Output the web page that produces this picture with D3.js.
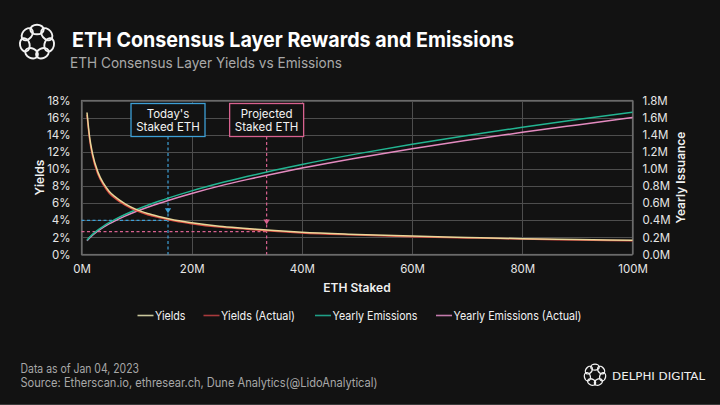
<!DOCTYPE html>
<html>
<head>
<meta charset="utf-8">
<script src="https://cdn.jsdelivr.net/npm/d3@7"></script>
<style>
  html, body { margin: 0; padding: 0; background: #121212; }
  svg { display: block; }
</style>
</head>
<body>
<svg id="chart" width="720" height="405"></svg>
<script>
// ---------------- DATA ----------------
const stakedM = [1, 1.5, 2, 3, 4, 5, 6, 8, 10, 12, 14, 16, 20, 25, 30, 35, 40, 50, 60, 70, 80, 90, 100];
const yields = [16.6, 13.6, 11.8, 9.6, 8.3, 7.4, 6.8, 5.9, 5.25, 4.8, 4.45, 4.15, 3.7, 3.3, 3.05, 2.8, 2.6, 2.35, 2.15, 2.0, 1.85, 1.75, 1.66];
const yieldsActual = [16.3, 13.3, 11.5, 9.35, 8.1, 7.2, 6.6, 5.75, 5.1, 4.65, 4.32, 4.03, 3.6, 3.2, 2.96, 2.72, 2.52, 2.28, 2.08, 1.94, 1.8, 1.7, 1.61];
const emissions = [0.166, 0.204, 0.235, 0.288, 0.333, 0.372, 0.407, 0.47, 0.526, 0.576, 0.622, 0.665, 0.744, 0.832, 0.911, 0.984, 1.052, 1.176, 1.288, 1.391, 1.487, 1.578, 1.664];
const emissionsActual = [0.16, 0.196, 0.226, 0.276, 0.32, 0.357, 0.391, 0.451, 0.505, 0.553, 0.597, 0.638, 0.714, 0.799, 0.875, 0.945, 1.01, 1.129, 1.237, 1.335, 1.428, 1.515, 1.6];

const xTicks = [0, 20, 40, 60, 80, 100];
const yLeftTicks = [0, 2, 4, 6, 8, 10, 12, 14, 16, 18];
const yRightTicks = [0, 0.2, 0.4, 0.6, 0.8, 1.0, 1.2, 1.4, 1.6, 1.8];

const seriesNames = ["Yields", "Yields (Actual)", "Yearly Emissions", "Yearly Emissions (Actual)"];
const seriesColors = ["#e9d79a", "#d9493f", "#22b592", "#e48bc0"];
const legendColors = ["#c9c79c", "#a83a3c", "#1f9f86", "#c27aab"];

// markers: [label lines], staked (M), yield (%)
const markerLabels = [["Today's", "Staked ETH"], ["Projected", "Staked ETH"]];
const markerStaked = [15.7, 33.6];
const markerYield = [4.0, 2.68];
const markerColors = ["#3d9fd6", "#d8628f"];

const title = "ETH Consensus Layer Rewards and Emissions";
const subtitle = "ETH Consensus Layer Yields vs Emissions";
const footer1 = "Data as of Jan 04, 2023";
const footer2 = "Source: Etherscan.io, ethresear.ch, Dune Analytics(@LidoAnalytical)";

// ---------------- LAYOUT ----------------
const svg = d3.select("#chart");
const W = 720, H = 405;
const m = { left: 81.5, right: 632.5, top: 100.5, bottom: 254.5 };
svg.append("rect").attr("width", W).attr("height", H).attr("fill", "#121212");

const x = d3.scaleLinear().domain([0, 100]).range([m.left, m.right]);
const yL = d3.scaleLinear().domain([0, 18]).range([m.bottom, m.top]);
const yR = d3.scaleLinear().domain([0, 1.8]).range([m.bottom, m.top]);

const FONT = "Inter, 'Noto Sans', sans-serif";

// Title block
svg.append("text").attr("x", 72).attr("y", 47).text(title)
  .attr("fill", "#ffffff").attr("font-family", FONT).attr("font-weight", 700)
  .attr("font-size", 20.5).attr("textLength", 442).attr("lengthAdjust", "spacingAndGlyphs");
svg.append("text").attr("x", 70).attr("y", 68).text(subtitle)
  .attr("fill", "#a8a8a8").attr("font-family", FONT).attr("font-weight", 400)
  .attr("font-size", 14.5).attr("textLength", 272).attr("lengthAdjust", "spacingAndGlyphs");

// Logo (ring of interlocking loops)
function drawLogo(cx, cy, r, n, sw) {
  const lg = svg.append("g").attr("transform", `translate(${cx},${cy})`);
  for (let i = 0; i < n; i++) {
    const a = (i / n) * 360;
    lg.append("ellipse")
      .attr("cx", 0).attr("cy", -r * 0.78).attr("rx", r * 0.42).attr("ry", r * 0.3)
      .attr("transform", `rotate(${a})`)
      .attr("fill", "none").attr("stroke", "#f2f2f2").attr("stroke-width", sw);
  }
  return lg;
}
drawLogo(37, 42, 16, 7, 1.9);

// Grid
const grid = svg.append("g");
grid.selectAll("line.h").data(yLeftTicks).join("line")
  .attr("x1", m.left).attr("x2", m.right)
  .attr("y1", d => Math.round(yL(d)) + 0.5).attr("y2", d => Math.round(yL(d)) + 0.5)
  .attr("stroke", "#4d4d4d").attr("stroke-width", 1);
grid.selectAll("line.v").data(xTicks).join("line")
  .attr("y1", m.top).attr("y2", m.bottom)
  .attr("x1", d => Math.round(x(d)) + 0.5).attr("x2", d => Math.round(x(d)) + 0.5)
  .attr("stroke", "#4d4d4d").attr("stroke-width", 1);
svg.append("rect").attr("x", m.left).attr("y", m.top)
  .attr("width", m.right - m.left).attr("height", m.bottom - m.top)
  .attr("fill", "none").attr("stroke", "#6a6a6a").attr("stroke-width", 1.2);

// Axes (text only via d3 axes)
const axisStyle = g => {
  g.select(".domain").remove();
  g.selectAll(".tick line").remove();
  g.selectAll(".tick text").attr("fill", "#e6e6e6").attr("font-family", FONT).attr("font-size", 11.5);
};
svg.append("g").attr("transform", `translate(${m.left - 11},0)`)
  .call(d3.axisLeft(yL).tickValues(yLeftTicks).tickFormat(d => d + "%").tickSize(0).tickPadding(0))
  .call(axisStyle);
svg.append("g").attr("transform", `translate(${m.right + 10},0)`)
  .call(d3.axisRight(yR).tickValues(yRightTicks).tickFormat(d => d3.format(".1f")(d) + "M").tickSize(0).tickPadding(0))
  .call(axisStyle);
svg.append("g").attr("transform", `translate(0,${m.bottom + 8})`)
  .call(d3.axisBottom(x).tickValues(xTicks).tickFormat(d => d + "M").tickSize(0).tickPadding(2))
  .call(axisStyle);

svg.append("text").text("Yields")
  .attr("transform", `translate(44,${(m.top + m.bottom) / 2}) rotate(-90)`)
  .attr("text-anchor", "middle").attr("fill", "#f0f0f0").attr("font-family", FONT)
  .attr("font-weight", 600).attr("font-size", 12);
svg.append("text").text("Yearly Issuance")
  .attr("transform", `translate(685,${(m.top + m.bottom) / 2}) rotate(-90)`)
  .attr("text-anchor", "middle").attr("fill", "#f0f0f0").attr("font-family", FONT)
  .attr("font-weight", 600).attr("font-size", 12);
svg.append("text").text("ETH Staked")
  .attr("x", (m.left + m.right) / 2).attr("y", 292)
  .attr("text-anchor", "middle").attr("fill", "#f0f0f0").attr("font-family", FONT)
  .attr("font-weight", 600).attr("font-size", 12);

// Marker dashed lines & arrows
const boxW = 74, boxH = 33, boxTop = 103.5;
markerStaked.forEach((s, i) => {
  const c = markerColors[i];
  const px = x(s);
  const py = yL(markerYield[i]);
  svg.append("line").attr("x1", m.left).attr("x2", px).attr("y1", py).attr("y2", py)
    .attr("stroke", c).attr("stroke-width", 1.2).attr("stroke-dasharray", "3,2.5");
  svg.append("line").attr("x1", px).attr("x2", px).attr("y1", boxTop + boxH).attr("y2", m.bottom)
    .attr("stroke", c).attr("stroke-width", 1.2).attr("stroke-dasharray", "3,2.5");
  const tipY = py - 7;
  svg.append("path")
    .attr("d", `M${px - 3.2},${tipY - 5} L${px + 3.2},${tipY - 5} L${px},${tipY} Z`)
    .attr("fill", c);
});

// Lines
const allSeries = [
  { vals: yields, y: yL },
  { vals: yieldsActual, y: yL },
  { vals: emissions, y: yR },
  { vals: emissionsActual, y: yR }
];
const drawOrder = [3, 2, 1, 0];
drawOrder.forEach(i => {
  const s = allSeries[i];
  const line = d3.line().x((d, j) => x(stakedM[j])).y(d => s.y(d)).curve(d3.curveMonotoneX);
  svg.append("path").datum(s.vals).attr("d", line)
    .attr("fill", "none").attr("stroke", seriesColors[i]).attr("stroke-width", 1.5);
});

// Boxes drawn on top
markerStaked.forEach((s, i) => {
  const c = markerColors[i];
  const px = x(s);
  const g = svg.append("g");
  g.append("rect").attr("x", px - boxW / 2).attr("y", boxTop).attr("width", boxW).attr("height", boxH)
    .attr("fill", "#121212").attr("stroke", c).attr("stroke-width", 1.3);
  markerLabels[i].forEach((t, k) => {
    g.append("text").text(t).attr("x", px).attr("y", boxTop + 14 + k * 13.5)
      .attr("text-anchor", "middle").attr("fill", "#f2f2f2").attr("font-family", FONT)
      .attr("font-size", 11.5);
  });
});

// Legend
const legendX = [137.5, 203.5, 315, 436];
const legendTextW = [30.5, 74, 85, 128];
const legendY = 315.5;
seriesNames.forEach((n, i) => {
  const g = svg.append("g");
  g.append("line").attr("x1", legendX[i]).attr("x2", legendX[i] + 16)
    .attr("y1", legendY).attr("y2", legendY)
    .attr("stroke", legendColors[i]).attr("stroke-width", 1.6);
  g.append("text").text(n).attr("x", legendX[i] + 17.5).attr("y", legendY + 4.2)
    .attr("fill", "#f2f2f2").attr("font-family", FONT).attr("font-size", 12)
    .attr("textLength", legendTextW[i]).attr("lengthAdjust", "spacingAndGlyphs");
});

// Footer
svg.append("text").text(footer1).attr("x", 20.5).attr("y", 372.5)
  .attr("fill", "#a8a8a8").attr("font-family", FONT).attr("font-size", 12.5)
  .attr("textLength", 118.5).attr("lengthAdjust", "spacingAndGlyphs");
svg.append("text").text(footer2).attr("x", 20.5).attr("y", 387)
  .attr("fill", "#a8a8a8").attr("font-family", FONT).attr("font-size", 12.5)
  .attr("textLength", 357).attr("lengthAdjust", "spacingAndGlyphs");

// Delphi Digital brand
drawLogo(595, 375, 10, 7, 1.3);
svg.append("text").text("DELPHI DIGITAL").attr("x", 612).attr("y", 380)
  .attr("fill", "#f0f0f0").attr("font-family", "'DejaVu Sans', sans-serif").attr("font-size", 11)
  .attr("font-weight", 400).attr("textLength", 93).attr("lengthAdjust", "spacingAndGlyphs");

svg.append("line").attr("x1", 0).attr("x2", W).attr("y1", 404.5).attr("y2", 404.5)
  .attr("stroke", "#3a3a3a").attr("stroke-width", 1);
</script>
</body>
</html>
